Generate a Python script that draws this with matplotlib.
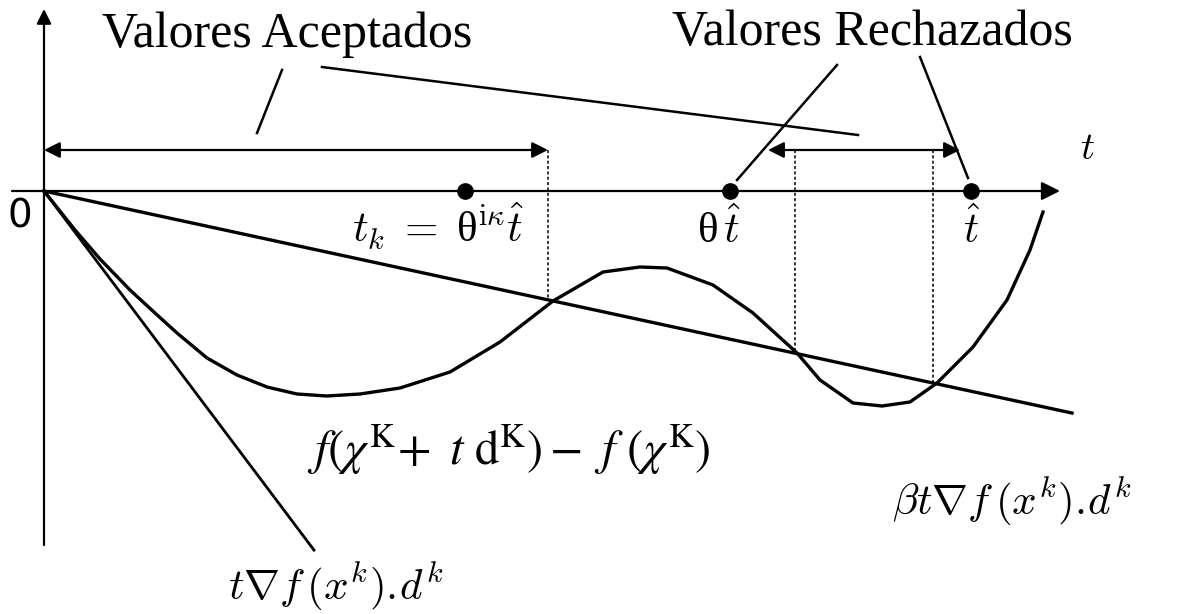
"""Armijo line search sketch.

Draws phi(t) = f(x^k + t d^k) - f(x^k) against the tangent line t grad f(x^k).d^k
and the relaxed line beta t grad f(x^k).d^k, with the accepted and rejected step sizes.
"""
import numpy as np
import matplotlib.pyplot as plt

plt.rcParams['mathtext.fontset'] = 'cm'

# phi(t) sampled along the step length t
curve_t = [0, 0.31, 0.56, 0.86, 1.11, 1.33, 1.63, 1.93, 2.23, 2.53, 2.83, 3.16, 3.56, 4.06,
           4.56, 5.09, 5.59, 5.96, 6.23, 6.69, 7.09, 7.53, 7.76, 8.09, 8.38, 8.66, 8.93,
           9.29, 9.63, 9.86, 9.99]
curve_phi = [0, -0.39, -0.68, -0.99, -1.22, -1.42, -1.67, -1.84, -1.96, -2.03, -2.05, -2.03,
             -1.97, -1.81, -1.51, -1.10, -0.81, -0.76, -0.77, -0.94, -1.22, -1.62, -1.89,
             -2.12, -2.15, -2.11, -1.92, -1.56, -1.09, -0.59, -0.21]

# slopes of the two lines through the origin
grad_slope = -1.33     # t grad f(x^k).d^k
beta_slope = -0.216    # beta t grad f(x^k).d^k
grad_t_end = 2.7
beta_t_end = 10.28

# marked step sizes on the t axis
step_t = [4.21, 6.86, 9.27]             # t_k, theta t_hat, t_hat
cross_t = [5.04, 7.51, 8.89]            # where phi meets the beta line
accepted = (0, 5.04)
rejected = (7.24, 9.16)
bracket_y = 0.41

fig = plt.figure(figsize=(11.92, 6.14), dpi=100)
ax = fig.add_axes([0, 0, 1, 1])
ax.set_xlim(-0.44, 11.48)
ax.set_ylim(-4.23, 1.91)
ax.axis('off')

# axes with arrow heads
ax.annotate('', xy=(10.16, 0), xytext=(-0.32, 0),
            arrowprops=dict(arrowstyle='-|>', color='k', lw=1.6, mutation_scale=28, shrinkA=0, shrinkB=0))
ax.annotate('', xy=(0, 1.82), xytext=(0, -3.54),
            arrowprops=dict(arrowstyle='-|>', color='k', lw=1.6, mutation_scale=22, shrinkA=0, shrinkB=0))

# function and the two lines
ax.plot(curve_t, curve_phi, color='k', lw=2.4, solid_joinstyle='round')
ax.plot([0, grad_t_end], [0, grad_slope * grad_t_end], color='k', lw=2.0)
ax.plot([0, beta_t_end], [0, beta_slope * beta_t_end], color='k', lw=2.4)

# dotted drops from the brackets to the crossings
for tc in cross_t:
    ax.plot([tc, tc], [bracket_y, beta_slope * tc], color='k', lw=1.1, linestyle=(0, (2, 1.5)))

# accepted / rejected brackets
for a, b in [accepted, rejected]:
    ax.annotate('', xy=(b, bracket_y), xytext=(a, bracket_y),
                arrowprops=dict(arrowstyle='<|-|>', color='k', lw=1.6, mutation_scale=24,
                                shrinkA=0, shrinkB=0))

ax.plot(step_t, [0] * len(step_t), 'o', color='k', markersize=11)

# leader lines from the titles
leaders = [((2.13, 0.58), (2.38, 1.21)),
           ((2.78, 1.24), (8.14, 0.56)),
           ((6.93, 0.11), (7.93, 1.26)),
           ((9.24, 0.13), (8.76, 1.34))]
for (x0, y0), (x1, y1) in leaders:
    ax.plot([x0, x1], [y0, y1], color='k', lw=1.8)

serif = 'Liberation Serif'
ax.text(0.58, 1.44, 'Valores Aceptados', fontsize=36, family=serif, va='baseline')
ax.text(6.28, 1.46, 'Valores Rechazados', fontsize=36, family=serif, va='baseline')

ax.text(-0.24, -0.26, '0', fontsize=28, family='DejaVu Sans', ha='center', va='center')
ax.text(10.43, 0.43, r'$t$', fontsize=28, ha='center', va='center')

ax.text(3.08, -0.52, r'$t_k$ $\mathbf{=}$ θ$^{\mathrm{i}\kappa}\hat{t}$', fontsize=31, family=serif,
        va='baseline')
ax.text(6.53, -0.52, r'θ$\,\hat{t}$', fontsize=31, family=serif, va='baseline')
ax.text(9.27, -0.52, r'$\hat{t}$', fontsize=30, ha='center', va='baseline')

ax.text(2.63, -2.74, r'$f(\chi^{\mathrm{K}}\!+\ t\ \mathrm{d}^{\mathrm{K}})-\ f\ (\chi^{\mathrm{K}})$',
        fontsize=35, va='baseline', math_fontfamily='stix')
ax.text(8.48, -3.24, r'$\beta t\nabla f\,(x^k).\!d^k$', fontsize=31, va='baseline')
ax.text(1.84, -4.09, r'$t\nabla f\,(x^k).\!d^k$', fontsize=31, va='baseline')

fig.savefig('out.png', dpi=100, facecolor='white')
